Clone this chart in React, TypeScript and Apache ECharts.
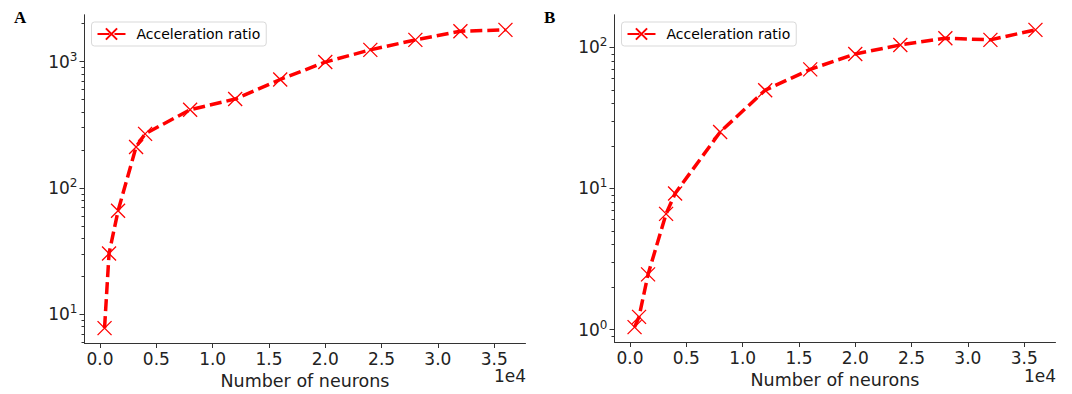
import React, { useEffect, useRef } from "react";
import * as echarts from "echarts";

const neurons = [400, 800, 1600, 3200, 4000, 8000, 12000, 16000, 20000, 24000, 28000, 32000, 36000];
const ratioA = [7.8, 30.3, 66, 211, 268, 416, 505, 721, 990, 1237, 1483, 1735, 1778];
const ratioB = [1.04, 1.23, 2.46, 6.6, 9.2, 25.1, 49.7, 69.8, 89.8, 104, 116, 113, 133];
const xTicks = [0, 5000, 10000, 15000, 20000, 25000, 30000, 35000];
const yMajorA = [10, 100, 1000];
const yMinorA = [6, 7, 8, 9, 20, 30, 40, 50, 60, 70, 80, 90, 200, 300, 400, 500, 600, 700, 800, 900, 2000];
const yMajorB = [1, 10, 100];
const yMinorB = [0.8, 0.9, 2, 3, 4, 5, 6, 7, 8, 9, 20, 30, 40, 50, 60, 70, 80, 90];
const seriesName = "Acceleration ratio";
const xName = "Number of neurons";

const FONT = "DejaVu Sans";
const AXIS_COLOR = "#333";
const TEXT_COLOR = "#222";
const TICK_FONT = 17;

function logExtent(vals: number[]) {
  const lo = Math.log10(Math.min(...vals));
  const hi = Math.log10(Math.max(...vals));
  const m = (hi - lo) * 0.05;
  return [Math.pow(10, lo - m), Math.pow(10, hi + m)];
}
function linExtent(vals: number[]) {
  const lo = Math.min(...vals);
  const hi = Math.max(...vals);
  const m = (hi - lo) * 0.05;
  return [lo - m, hi + m];
}

export default function App() {
  const ref = useRef<HTMLDivElement>(null);
  useEffect(() => {
    if (!ref.current) return;
    const chart = echarts.init(ref.current, undefined, { renderer: "svg" });
    const [xmin, xmax] = linExtent(neurons);
    const extA = logExtent(ratioA);
    const extB = logExtent(ratioB);
    const grids = [
      { left: 84.5, top: 15, width: 441, height: 328, containLabel: false, outerBoundsMode: "none" },
      { left: 614.5, top: 15, width: 441, height: 327, containLabel: false, outerBoundsMode: "none" },
    ];
    const xAxis = [0, 1].map((i) => ({
      type: "value",
      gridIndex: i,
      min: xmin,
      max: xmax,
      name: xName,
      nameLocation: "middle",
      nameGap: 28,
      nameTextStyle: { fontFamily: FONT, fontSize: 17.5, color: TEXT_COLOR },
      splitLine: { show: false },
      axisLine: { show: true, onZero: false, lineStyle: { color: AXIS_COLOR, width: 1 } },
      axisTick: { show: true, length: 5, customValues: xTicks, lineStyle: { color: AXIS_COLOR } },
      axisLabel: {
        customValues: xTicks,
        formatter: (v: number) => (v / 10000).toFixed(1),
        fontFamily: FONT,
        fontSize: TICK_FONT,
        color: TEXT_COLOR,
        margin: 7,
      },
    }));
    const supFmt = (v: number) => `{b|10}{s|${Math.round(Math.log10(v))}}`;
    const rich = {
      b: { fontFamily: FONT, fontSize: TICK_FONT, color: TEXT_COLOR },
      s: { fontFamily: FONT, fontSize: 12, color: TEXT_COLOR, padding: [0, 0, 10, 0] },
    };
    const mkY = (i: number, ext: number[], major: number[], minor: number[]) => [
      {
        type: "log",
        logBase: 10,
        gridIndex: i,
        min: ext[0],
        max: ext[1],
        position: "left",
        splitLine: { show: false },
        axisLine: { show: true, onZero: false, lineStyle: { color: AXIS_COLOR, width: 1 } },
        axisTick: { show: true, length: 5, customValues: major, lineStyle: { color: AXIS_COLOR } },
        axisLabel: { customValues: major, formatter: supFmt, rich, margin: 7 },
      },
      {
        type: "log",
        logBase: 10,
        gridIndex: i,
        min: ext[0],
        max: ext[1],
        position: "left",
        offset: 0,
        splitLine: { show: false },
        axisLine: { show: true, onZero: false, lineStyle: { color: AXIS_COLOR, width: 1 } },
        axisTick: { show: true, length: 3, customValues: minor, lineStyle: { color: AXIS_COLOR, width: 1 } },
        axisLabel: { show: false },
      },
    ];
    const yAxis = [...mkY(0, extA, yMajorA, yMinorA), ...mkY(1, extB, yMajorB, yMinorB)];
    const mkSeries = (i: number, vals: number[]) => ({
      name: seriesName,
      type: "line",
      xAxisIndex: i,
      yAxisIndex: i * 2,
      data: neurons.map((n, k) => [n, vals[k]]),
      color: "#ff0000",
      lineStyle: { color: "#ff0000", width: 3.5, type: [12, 5] },
      symbol: "path://M0,0L10,10M10,0L0,10",
      symbolSize: 14,
      showSymbol: true,
      itemStyle: { color: "rgba(0,0,0,0)", borderColor: "#ff0000", borderWidth: 1.3 },
      z: 3,
    });
    const mkLegend = (left: number) => ({
      show: true,
      left,
      top: 22,
      orient: "horizontal",
      data: [seriesName],
      backgroundColor: "#fff",
      borderColor: "#d9d9d9",
      borderWidth: 1,
      borderRadius: 3,
      padding: [5, 6, 5, 5],
      itemWidth: 28,
      itemHeight: 14,
      textStyle: { fontFamily: FONT, fontSize: 14, color: "#000", padding: [0, 0, 0, 6] },
    });
    chart.setOption({
      animation: false,
      backgroundColor: "#fff",
      grid: grids,
      xAxis,
      yAxis,
      legend: [mkLegend(91.5), mkLegend(621.5)],
      series: [mkSeries(0, ratioA), mkSeries(1, ratioB)],
      graphic: [
        { type: "text", left: 14, top: 9, style: { text: "A", font: "bold 17px 'Liberation Serif'", fill: "#000" } },
        { type: "text", left: 544, top: 9, style: { text: "B", font: "bold 17px 'Liberation Serif'", fill: "#000" } },
        { type: "text", right: 1072 - 526, top: 367, style: { text: "1e4", font: `${TICK_FONT}px 'DejaVu Sans'`, fill: TEXT_COLOR, textAlign: "right" } },
        { type: "text", right: 1072 - 1056, top: 367, style: { text: "1e4", font: `${TICK_FONT}px 'DejaVu Sans'`, fill: TEXT_COLOR, textAlign: "right" } },
      ],
    });
    return () => chart.dispose();
  }, []);
  return (
    <div
      ref={ref}
      style={{ position: "fixed", left: 0, top: 0, width: 1072, height: 394 }}
    />
  );
}
